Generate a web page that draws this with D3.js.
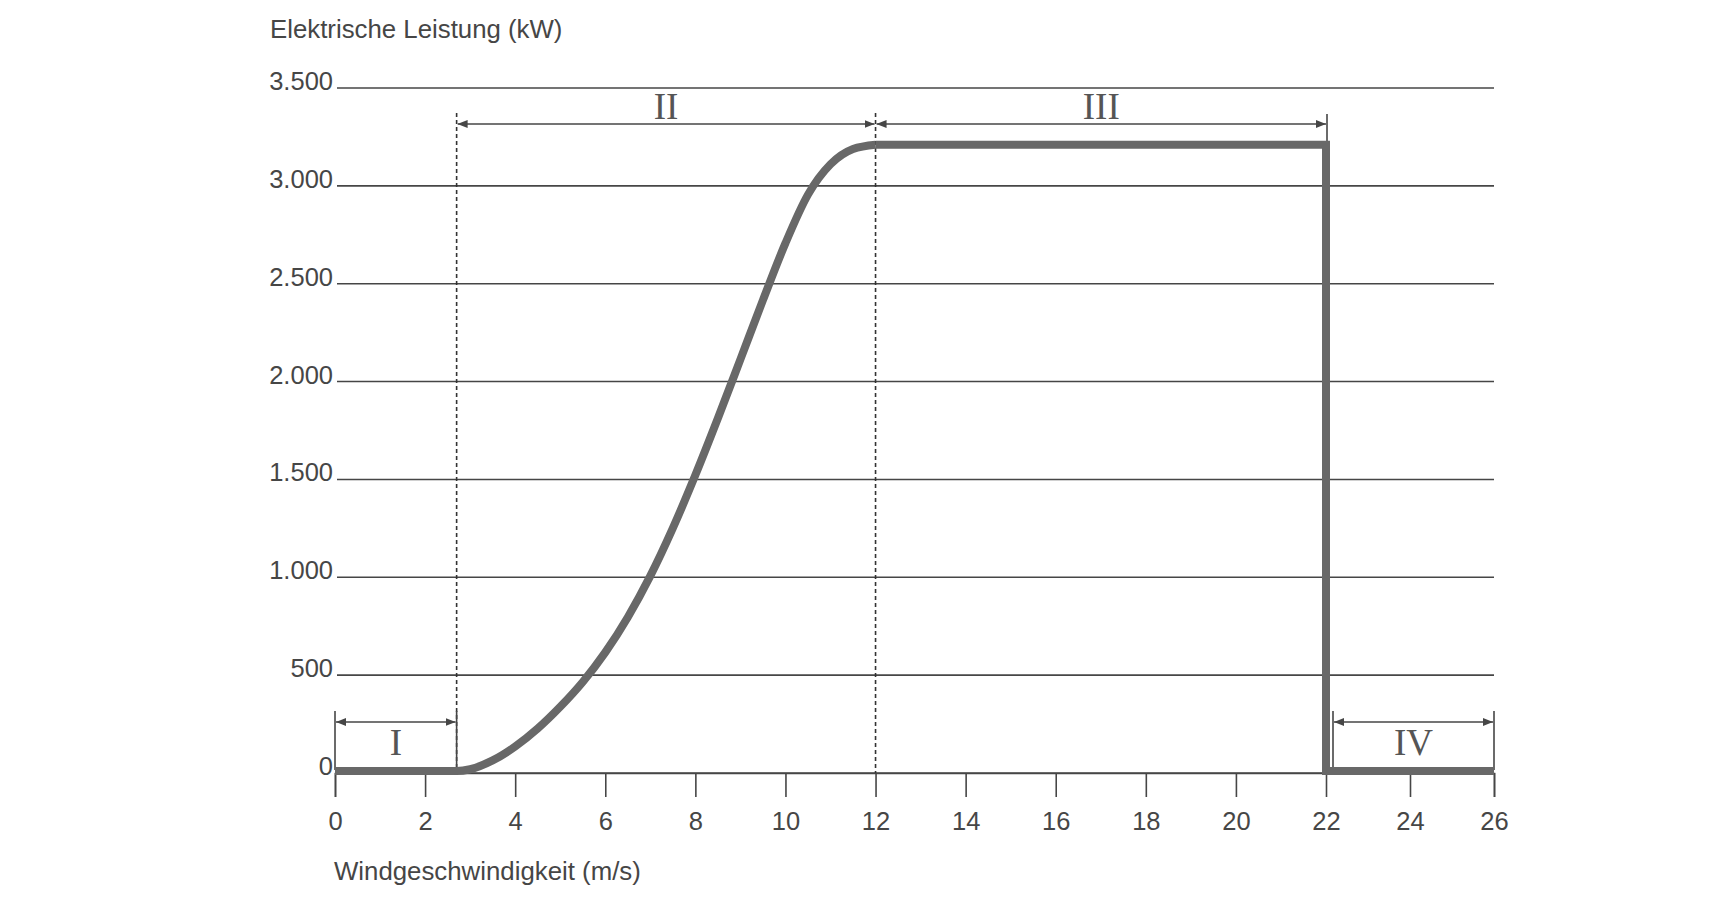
<!DOCTYPE html>
<html><head><meta charset="utf-8">
<script src="https://cdn.jsdelivr.net/npm/d3@7"></script>
<style>body{margin:0;background:#fff}</style></head>
<body><svg id="c" width="1723" height="913"></svg>
<script>
// ---- data ----
const windSpeed = [0,1,2,2.7,3,3.5,4,4.5,5,5.5,6,6.5,7,7.5,8,8.5,9,9.5,10,10.5,11,11.5,12];
const power     = [0,0,0,0,9,54,125,217,328,455,606,786,997,1241,1512,1802,2103,2406,2697,2945,3100,3178,3200];
const plateauSpeed = [12,22,22,26];
const plateauPower = [3200,3200,0,0];
const xTicks = [0,2,4,6,8,10,12,14,16,18,20,22,24,26];
const yTicks = [0,500,1000,1500,2000,2500,3000,3500];
const yTickLabels = ["0","500","1.000","1.500","2.000","2.500","3.000","3.500"];
const regionLabels = ["I","II","III","IV"];
const regionFrom = [0,2.7,12,22];
const regionTo   = [2.7,12,22,26];
const yTitle = "Elektrische Leistung (kW)";
const xTitle = "Windgeschwindigkeit (m/s)";

// ---- layout ----
const svg = d3.select("#c");
const x = d3.scaleLinear().domain([0,22,26]).range([335,1326,1494]);
const y = d3.scaleLinear().domain([0,3500]).range([773,88]);
const ink = "#464646", curveCol = "#686868";
const sans = "'Liberation Sans', Arial, Helvetica, sans-serif";
const serif = "'Liberation Serif', 'Times New Roman', serif";

svg.append("rect").attr("width",1723).attr("height",913).attr("fill","#fff");

const defs = svg.append("defs");
defs.append("marker").attr("id","arr").attr("viewBox","0 0 10 8")
  .attr("refX",10).attr("refY",4).attr("markerWidth",10).attr("markerHeight",8)
  .attr("markerUnits","userSpaceOnUse").attr("orient","auto-start-reverse")
  .append("path").attr("d","M0,0L10,4L0,8Z").attr("fill",ink);

// gridlines
svg.append("g").selectAll("line").data(yTicks).join("line")
  .attr("x1",x(0)+2).attr("x2",x(26)).attr("y1",d=>y(d)).attr("y2",d=>y(d))
  .attr("stroke",ink).attr("stroke-width",1.6);

// y tick labels
svg.append("g").selectAll("text").data(yTicks).join("text")
  .attr("x",x(0)-2).attr("y",d=>y(d)+2).attr("text-anchor","end")
  .attr("font-family",sans).attr("font-size",25.5).attr("fill",ink)
  .text((d,i)=>yTickLabels[i]);

// x axis
const xAxis = d3.axisBottom(x).tickValues(xTicks).tickSize(24).tickPadding(11).tickFormat(d3.format("d"));
const gx = svg.append("g").attr("transform",`translate(0,${y(0)})`).call(xAxis);
gx.select(".domain").attr("stroke",ink).attr("stroke-width",1.6);
gx.selectAll(".tick line").attr("stroke",ink).attr("stroke-width",1.6);
gx.selectAll(".tick text").attr("font-family",sans).attr("font-size",25.5).attr("fill",ink).attr("dy","0.88em");

// titles
svg.append("text").attr("x",270).attr("y",38).attr("font-family",sans).attr("font-size",25.8).attr("fill",ink).text(yTitle);
svg.append("text").attr("x",334).attr("y",880).attr("font-family",sans).attr("font-size",25.8).attr("fill",ink).text(xTitle);

// dashed boundaries between II and III
[regionFrom[1], regionFrom[2]].forEach(v=>{
  svg.append("line").attr("x1",x(v)).attr("x2",x(v)).attr("y1",113).attr("y2",y(0))
    .attr("stroke","#333").attr("stroke-width",1.6).attr("stroke-dasharray","4,3");
});
// solid line at cut-out top
svg.append("line").attr("x1",x(regionTo[2])+1).attr("x2",x(regionTo[2])+1).attr("y1",114).attr("y2",y(3000))
  .attr("stroke",ink).attr("stroke-width",1.6);

// region arrows
const upperY = 124, lowerY = 722;
regionLabels.forEach((lab,i)=>{
  const lower = (i===0 || i===3);
  const ay = lower ? lowerY : upperY;
  let x1 = x(regionFrom[i]), x2 = x(regionTo[i]);
  if (i===3) x1 += 7;
  if (i===2) x2 += 1;
  if (lower) {
    [x1,x2].forEach(xx=>svg.append("line").attr("x1",xx).attr("x2",xx).attr("y1",711).attr("y2",y(0)-3)
      .attr("stroke",ink).attr("stroke-width",1.6));
  }
  svg.append("line").attr("x1",x1+1).attr("x2",x2-1).attr("y1",ay).attr("y2",ay)
    .attr("stroke",ink).attr("stroke-width",1.6)
    .attr("marker-start","url(#arr)").attr("marker-end","url(#arr)");
  svg.append("text").attr("x",(x1+x2)/2).attr("y",lower?755:119).attr("text-anchor","middle")
    .attr("font-family",serif).attr("font-size",37).attr("fill","#555").text(lab);
});

// power curve
const rise = windSpeed.map((v,i)=>[v,power[i]]);
const plateau = plateauSpeed.map((v,i)=>[v,plateauPower[i]]);
const g = svg.append("g").attr("transform","translate(0,-2)");
g.append("path").datum(rise)
  .attr("d",d3.line().x(d=>x(d[0])).y(d=>y(d[1])).curve(d3.curveMonotoneX))
  .attr("fill","none").attr("stroke",curveCol).attr("stroke-width",8).attr("stroke-linecap","butt").attr("stroke-linejoin","round");
g.append("path").datum(plateau)
  .attr("d",d3.line().x(d=>x(d[0])).y(d=>y(d[1])))
  .attr("fill","none").attr("stroke",curveCol).attr("stroke-width",8).attr("stroke-linecap","butt").attr("stroke-linejoin","miter");
</script></body></html>
